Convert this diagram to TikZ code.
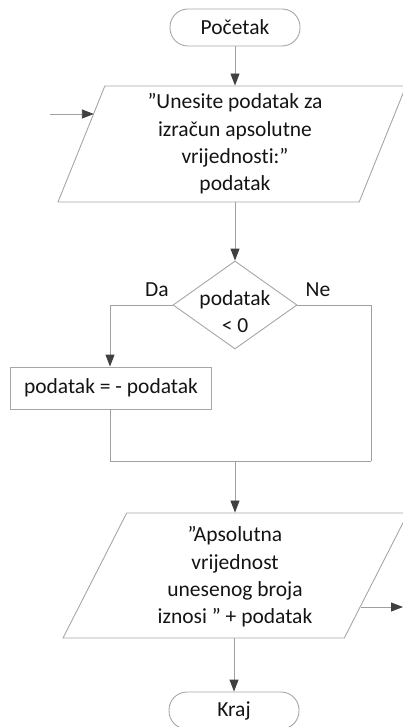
\documentclass[tikz,border=0pt]{standalone}
\usepackage{fontspec}
\setmainfont{Carlito}[Ligatures=NoCommon]
\usetikzlibrary{shapes.geometric,arrows.meta}
\definecolor{edgegray}{HTML}{A6A6A6}
\definecolor{linegray}{HTML}{A0A0A0}
\definecolor{tipgray}{HTML}{404040}
\definecolor{txt}{HTML}{141414}
\begin{document}
\begin{tikzpicture}[x=1pt,y=-1pt,
  every node/.style={text=txt,font=\fontsize{21.5}{27.3}\selectfont},
  base/.style={draw=edgegray,line width=0.9pt},
  term/.style={base,rectangle,rounded corners=18pt,minimum width=130pt,minimum height=37pt,inner sep=0pt},
  io/.style={base,trapezium,trapezium stretches body=true,inner sep=0pt},
  proc/.style={base,rectangle,minimum width=201pt,minimum height=42pt,inner sep=0pt},
  decision/.style={base,diamond,aspect=1.41,inner sep=0pt,minimum width=124pt,minimum height=88pt},
  lbl/.style={inner sep=0pt,align=center},
  flow/.style={draw=linegray,line width=0.9pt},
  arr/.style={flow,-{Triangle[length=12pt,width=9pt,color=tipgray]}}]
\useasboundingbox (0,0) rectangle (403,727);

% symbols (their texts are set by separate nodes on top)
\node[term] (start) at (235,27.5) {Početak};
\node[io,trapezium left angle=68,trapezium right angle=112,
      text height=58pt,text depth=58pt,
      minimum width=348pt] (in1) at (232,144) {\phantom{X}};
\node[lbl] (in1text) at (235,144)
  {”Unesite podatak za\\izračun apsolutne\\vrijednosti:”\\podatak};
\node[decision] (dec) at (235,305) {\phantom{X}};
\node[lbl] (dectext) at (235,311.5) {podatak\\< 0};
\node[proc] (neg) at (111,388) {podatak = - podatak};
\node[io,trapezium left angle=63,trapezium right angle=117,
      text height=62.5pt,text depth=62.5pt,
      minimum width=345pt] (out1) at (235.5,575.5) {\phantom{X}};
\node[lbl] (out1text) at (235,577)
  {”Apsolutna\\vrijednost\\unesenog broja\\iznosi ” + podatak};
\node[term] (end) at (234,710.5) {Kraj};

% branch labels
\node[lbl] (da) at (157,290) {Da};
\node[lbl] (ne) at (318,290) {Ne};

% free ends and the join point
\coordinate (inarr) at (50,114);
\coordinate (outarr) at (403,607);
\coordinate (mr) at (371,461);
\coordinate (ml) at (110,461);
\coordinate (m) at (235,461);

% connectors
\draw[arr] (start) -- (start |- in1.north);
\draw[arr] (inarr) -- (inarr -| in1.167);
\draw[arr] (dec |- in1.south) -- (dec.north);
\draw[arr] (dec.west) -| (neg.north -| ml);
\draw[flow] (neg.south -| ml) -- (ml) -- (mr);
\draw[flow] (dec.east) -| (mr);
\draw[arr] (m) -- (m |- out1.north);
\draw[arr] (out1.-14 |- outarr) -- (outarr);
\draw[arr] (end |- out1.south) -- (end);
\end{tikzpicture}
\end{document}
